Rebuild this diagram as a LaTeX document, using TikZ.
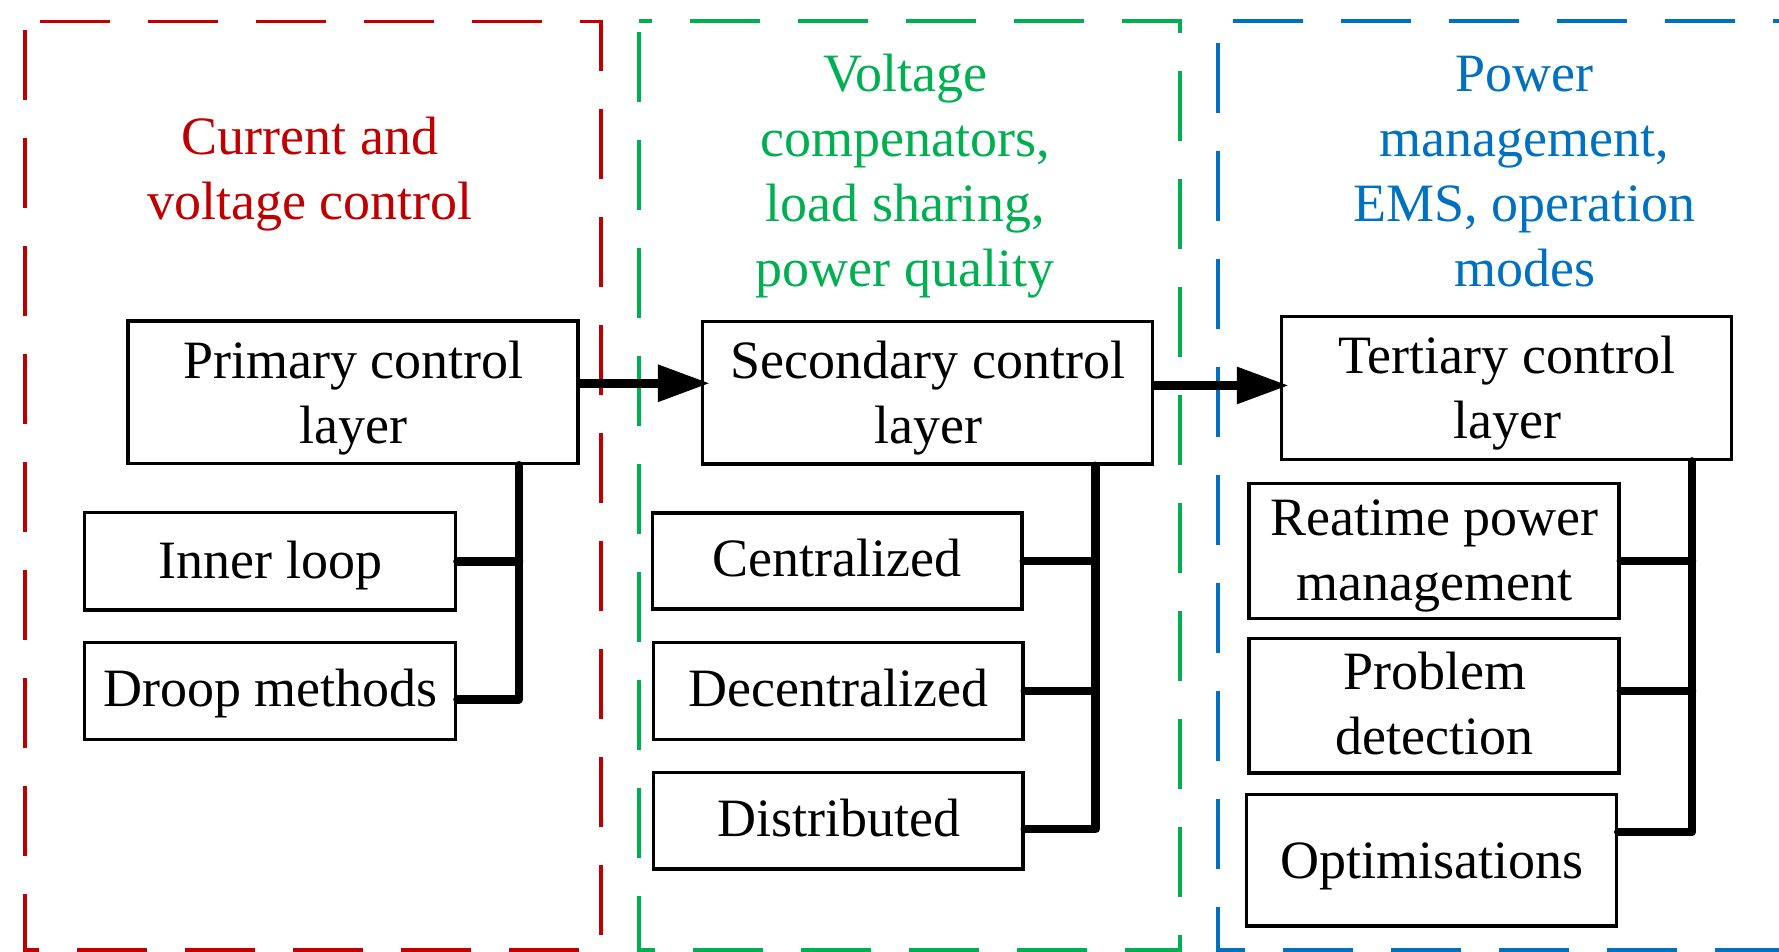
\documentclass[tikz,border=0pt]{standalone}
\usepackage{fontspec}
\setmainfont{Liberation Serif}
\usetikzlibrary{arrows.meta}
\definecolor{cred}{HTML}{C00000}
\definecolor{cgreen}{HTML}{00B050}
\definecolor{cblue}{HTML}{0070C0}
\tikzset{
  box/.style={draw, line width=3.5pt, inner sep=0pt, rectangle},
  txt/.style={inner sep=0pt, align=center, font=\fontsize{54}{65}\selectfont},
  region/.style={line width=3.5pt, dash pattern=on 70pt off 38pt},
  bus/.style={line width=8.5pt, line cap=round, line join=round},
  flow/.style={line width=9pt, -{Triangle[length=52pt,width=35pt]}, shorten >=-9pt},
}
\begin{document}
\begin{tikzpicture}[x=1pt,y=-1pt]
\useasboundingbox (0,0) rectangle (1779,951);
\clip (0,0) rectangle (1779,951);

% dashed regions
\draw[region, cred, dash phase=93pt] (25,21.5) -- (601,21.5) -- (601,950) -- (25,950) -- cycle;
\draw[region, cgreen, dash phase=57pt] (639,21) -- (1180,21) -- (1180,950) -- (639,950) -- cycle;
\draw[region, cblue, dash phase=93.5pt] (1218,21) -- (1800,21) -- (1800,950) -- (1218,950) -- cycle;

% region labels
\node[txt, text=cred] (lred) at (310,173.5) {\strut Current and\\voltage control\strut};
\node[txt, text=cgreen] (lgreen) at (905,176.2) {\strut Voltage\\compenators,\\load sharing,\\power quality\strut};
\node[txt, text=cblue] (lblue) at (1524.5,176.2) {\strut Power\\management,\\EMS, operation\\modes\strut};

% boxes
\node[box, minimum width=450pt, minimum height=142.5pt] (pri) at (353,392.25) {};
\node[box, minimum width=450pt, minimum height=142.3pt] (sec) at (927.7,392.85) {};
\node[box, minimum width=450pt, minimum height=143pt] (ter) at (1506.6,388.1) {};
\node[box, minimum width=371.4pt, minimum height=97.3pt] (inner) at (270,561.35) {};
\node[box, minimum width=371.4pt, minimum height=96.6pt] (droop) at (270,691) {};
\node[box, minimum width=369.3pt, minimum height=96pt] (cent) at (837.35,561) {};
\node[box, minimum width=369.4pt, minimum height=96.6pt] (dec) at (838.3,691) {};
\node[box, minimum width=369.5pt, minimum height=96.3pt] (dist) at (838.25,820.85) {};
\node[box, minimum width=370pt, minimum height=135pt] (rt) at (1434,551) {};
\node[box, minimum width=370pt, minimum height=134.5pt] (prob) at (1434,705.75) {};
\node[box, minimum width=370.2pt, minimum height=131.5pt] (opt) at (1431.4,860.25) {};

% box texts
\node[txt] (prit) at (353.5,397.8) {\strut Primary control\\layer\strut};
\node[txt] (sect) at (928,397.8) {\strut Secondary control\\layer\strut};
\node[txt] (tert) at (1507,392.5) {\strut Tertiary control\\layer\strut};
\node[txt] (innt) at (270.5,565.3) {\strut Inner loop};
\node[txt] (drot) at (270.5,693.7) {\strut Droop methods};
\node[txt] (centt) at (837,563.7) {\strut Centralized};
\node[txt] (dect) at (838.5,693.7) {\strut Decentralized};
\node[txt] (distt) at (838.5,823.7) {\strut Distributed};
\node[txt] (rtt) at (1434.5,554.9) {\strut Reatime power\\management\strut};
\node[txt] (probt) at (1434.5,709.1) {\strut Problem\\detection\strut};
\node[txt] (optt) at (1431.5,865.3) {\strut Optimisations};

% bus coordinates
\coordinate (pb) at (519,699.3);
\coordinate (sb) at (1095.5,829);
\coordinate (tb1) at (1692,561);
\coordinate (tb2) at (1692,691);
\coordinate (tb3) at (1692,832);

% primary tree
\draw[bus] (pri.south -| pb) -- (pb) -- (droop.east |- pb);
\draw[bus] (inner.east) -- (inner.east -| pb);
% secondary tree
\draw[bus] (sec.south -| sb) -- (sb) -- (dist.east |- sb);
\draw[bus] (cent.east) -- (cent.east -| sb);
\draw[bus] (dec.east) -- (dec.east -| sb);
% tertiary tree
\draw[bus] (ter.south -| tb3) -- (tb3) -- (opt.east |- tb3);
\draw[bus] (rt.east |- tb1) -- (tb1);
\draw[bus] (prob.east |- tb2) -- (tb2);

% flow arrows
\draw[flow] ([yshift=9pt]pri.east) -- ([yshift=9pt]pri.east -| sec.west);
\draw[flow] ([yshift=7.4pt]sec.east) -- ([yshift=7.4pt]sec.east -| ter.west);
\end{tikzpicture}
\end{document}
